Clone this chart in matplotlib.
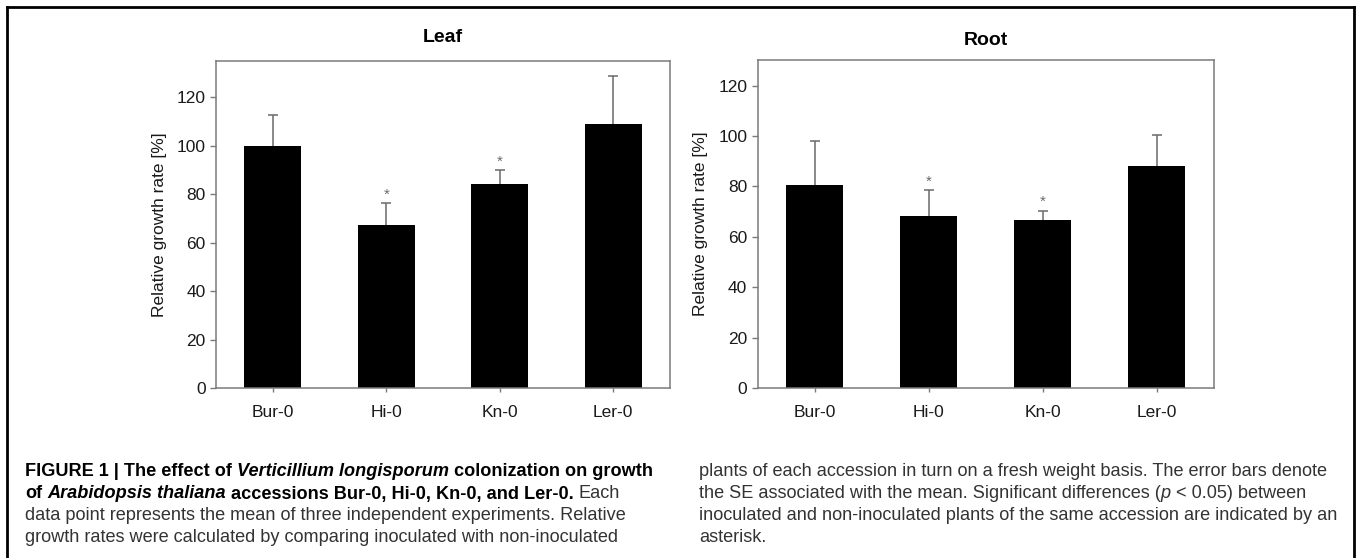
import matplotlib
matplotlib.use("Agg")
import numpy as np
import matplotlib.pyplot as plt
from matplotlib.lines import Line2D

plt.rcParams['font.family'] = ['Liberation Sans', 'DejaVu Sans']

# data
accessions = ["Bur-0", "Hi-0", "Kn-0", "Ler-0"]
leaf_mean = [100.0, 67.1, 84.2, 109.1]
leaf_se = [12.6, 9.2, 5.6, 19.6]
leaf_sig = [False, True, True, False]
root_mean = [80.4, 68.1, 66.7, 88.0]
root_se = [17.4, 10.3, 3.7, 12.3]
root_sig = [False, True, True, False]

W, H = 1357, 558
fig = plt.figure(figsize=(W / 100, H / 100), dpi=100)

gray = "#7a7a7a"


def panel(rect, title, mean, se, sig, ymax, pad):
    ax = fig.add_axes(rect)
    x = np.arange(len(accessions))
    ax.bar(x, mean, width=0.5, color="black", zorder=2)
    _, caps, _ = ax.errorbar(x, mean, yerr=[[0] * len(se), se], fmt="none", ecolor="#6a6a6a",
                             elinewidth=1.1, capsize=3.5, capthick=1.1, zorder=1)
    # only the upper cap is wanted
    for c in caps:
        if np.allclose(c.get_ydata(), mean):
            c.set_visible(False)
    for i, s in enumerate(sig):
        if s:
            ax.annotate("*", (i, mean[i] + se[i]), xytext=(0, 1), textcoords="offset points",
                        ha="center", va="bottom", fontsize=11, color="#6a6a6a")
    ax.set_xlim(-0.5, 3.5)
    ax.set_ylim(0, ymax)
    ax.set_yticks(range(0, 121, 20))
    ax.set_xticks(x)
    ax.set_xticklabels(accessions)
    for sp in ax.spines.values():
        sp.set_color(gray)
        sp.set_linewidth(1.1)
    ax.tick_params(axis="y", colors=gray, labelcolor="#1a1a1a", labelsize=12.5, length=4, width=1)
    ax.tick_params(axis="x", colors=gray, labelcolor="#1a1a1a", labelsize=12.5, length=3, width=1, pad=9)
    ax.set_ylabel("Relative growth rate [%]", fontsize=12.5, color="#1a1a1a", labelpad=7)
    ax.set_title(title, fontsize=14, fontweight="bold", pad=pad)
    return ax


panel([216 / W, 1 - 388 / H, 454 / W, 327 / H], "Leaf", leaf_mean, leaf_se, leaf_sig, 135, 14)
panel([757.6 / W, 1 - 388 / H, 456.2 / W, 327.7 / H], "Root", root_mean, root_se, root_sig, 130, 11)

# frame round the figure (open at the bottom)
for xs, ys in [([7, 7], [558, 7]), ([7, 1354], [7, 7]), ([1354, 1354], [7, 558])]:
    fig.add_artist(Line2D([v / W for v in xs], [1 - v / H for v in ys], color="black",
                          linewidth=2, transform=fig.transFigure))

# caption
renderer = fig.canvas.get_renderer()
cap_size = 13.1


def text_width(s, **kw):
    t = fig.text(0, 0, "|" + s + "|", fontsize=cap_size, **kw)
    t2 = fig.text(0, 0, "||", fontsize=cap_size, **kw)
    w = t.get_window_extent(renderer).width - t2.get_window_extent(renderer).width
    t.remove()
    t2.remove()
    return w


def draw_line(x, y, runs):
    for s, kw in runs:
        lead = len(s) - len(s.lstrip())
        dx = text_width(s[:lead], **kw) if lead else 0
        fig.text((x + dx) / W, 1 - y / H, s.strip(), fontsize=cap_size, va="baseline", ha="left", **kw)
        x += text_width(s, **kw)


B = dict(fontweight="bold", color="black")
BI = dict(fontweight="bold", fontstyle="italic", color="black")
N = dict(color="#333333")
I = dict(fontstyle="italic", color="#333333")

left_lines = [
    [("FIGURE 1 | The effect of ", B), ("Verticillium longisporum", BI), (" colonization on growth", B)],
    [("of ", B), ("Arabidopsis thaliana", BI), (" accessions Bur-0, Hi-0, Kn-0, and Ler-0.", B), (" Each", N)],
    [("data point represents the mean of three independent experiments. Relative", N)],
    [("growth rates were calculated by comparing inoculated with non-inoculated", N)],
]
right_lines = [
    [("plants of each accession in turn on a fresh weight basis. The error bars denote", N)],
    [("the SE associated with the mean. Significant differences (", N), ("p", I), (" < 0.05) between", N)],
    [("inoculated and non-inoculated plants of the same accession are indicated by an", N)],
    [("asterisk.", N)],
]
baselines = [476, 498.5, 520.5, 542.5]
for runs, y in zip(left_lines, baselines):
    draw_line(25, y, runs)
for runs, y in zip(right_lines, baselines):
    draw_line(699, y, runs)

fig.savefig("out.png", dpi=100)
